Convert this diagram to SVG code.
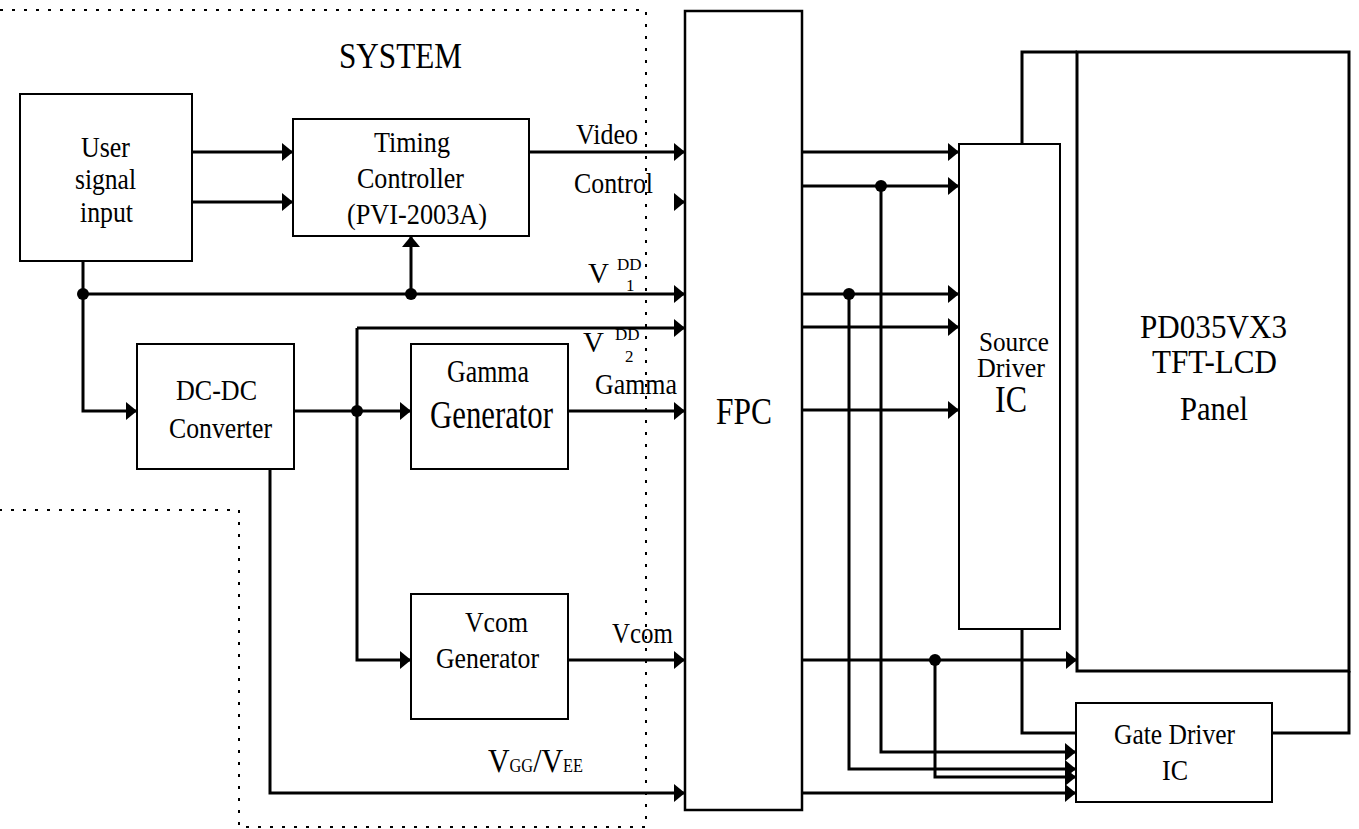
<svg xmlns="http://www.w3.org/2000/svg" width="1359" height="829" viewBox="0 0 1359 829">
<style>
.box{fill:#fff;stroke:#000;stroke-width:2}
.w{fill:none;stroke:#000;stroke-width:3}
.wa{fill:none;stroke:#000;stroke-width:3;marker-end:url(#arr)}
.dot{fill:#000}
.dotted{fill:none;stroke:#000;stroke-width:2;stroke-dasharray:3 9}
text{font-family:"Liberation Serif","Times New Roman",serif;fill:#000;font-size:29px}
</style>
<defs>
<marker id="arr" viewBox="0 0 11 18" refX="11" refY="9" markerWidth="11" markerHeight="18" markerUnits="userSpaceOnUse" orient="auto">
<path d="M0,0 L11,9 L0,18 z" fill="#000"/>
</marker>
</defs>
<rect width="1359" height="829" fill="#fff"/>
<path class="dotted" d="M0,10 H646 V827 H239 V510 H0"/>
<text x="339" y="68" style="font-size:35px" textLength="123" lengthAdjust="spacingAndGlyphs">SYSTEM</text>

<g id="connectors">
<path class="wa" d="M192,152 H293"/>
<path class="wa" d="M192,202 H293"/>
<path class="wa" d="M529,152 H685"/>
<path class="wa" d="M674,202 H685"/>
<path class="wa" d="M83,294 H685"/>
<path class="wa" d="M83,261 V411 H137"/>
<path class="wa" d="M411,294 V236"/>
<path class="wa" d="M294,411 H411"/>
<path class="wa" d="M357,328 H685"/>
<path class="wa" d="M357,328 V660 H411"/>
<path class="wa" d="M568,411 H685"/>
<path class="wa" d="M568,660 H685"/>
<path class="wa" d="M270,469 V793 H685"/>
<circle class="dot" cx="83" cy="294" r="6"/>
<circle class="dot" cx="411" cy="294" r="6"/>
<circle class="dot" cx="357" cy="411" r="6"/>

<path class="wa" d="M802,152 H959"/>
<path class="wa" d="M802,186 H959"/>
<path class="wa" d="M881,186 V752 H1076"/>
<path class="wa" d="M802,294 H959"/>
<path class="wa" d="M849,294 V769 H1076"/>
<path class="wa" d="M802,327 H959"/>
<path class="wa" d="M802,410 H959"/>
<path class="wa" d="M802,660 H1077"/>
<path class="wa" d="M935,660 V777 H1076"/>
<path class="wa" d="M802,793 H1076"/>
<path class="w" d="M1022,629 V733 H1076"/>
<path class="w" d="M1022,144 V52 H1077"/>
<path class="w" d="M1272,733 H1349 V671"/>
<circle class="dot" cx="881" cy="186" r="6"/>
<circle class="dot" cx="849" cy="294" r="6"/>
<circle class="dot" cx="935" cy="660" r="6"/>

<text x="576" y="144" textLength="62" lengthAdjust="spacingAndGlyphs">Video</text>
<text x="574" y="193" textLength="79" lengthAdjust="spacingAndGlyphs">Control</text>
<text x="588" y="283">V</text>
<text x="617" y="270" style="font-size:17px">DD</text>
<text x="626" y="291" style="font-size:17px">1</text>
<text x="583" y="352">V</text>
<text x="615" y="340" style="font-size:17px">DD</text>
<text x="625" y="362" style="font-size:17px">2</text>
<text x="595" y="394" textLength="82" lengthAdjust="spacingAndGlyphs">Gamma</text>
<text x="612" y="643" textLength="61" lengthAdjust="spacingAndGlyphs">Vcom</text>
<text x="488" y="772" style="font-size:33px" textLength="95" lengthAdjust="spacingAndGlyphs">V<tspan style="font-size:18px">GG</tspan>/V<tspan style="font-size:18px">EE</tspan></text>
</g>

<g id="user">
<rect class="box" x="20" y="94" width="172" height="167"/>
<text x="81" y="157" textLength="49" lengthAdjust="spacingAndGlyphs">User</text>
<text x="75" y="189" textLength="61" lengthAdjust="spacingAndGlyphs">signal</text>
<text x="80" y="222" textLength="53" lengthAdjust="spacingAndGlyphs">input</text>
</g>
<g id="timing">
<rect class="box" x="293" y="119" width="236" height="117"/>
<text x="374" y="152" textLength="76" lengthAdjust="spacingAndGlyphs">Timing</text>
<text x="357" y="188" textLength="107" lengthAdjust="spacingAndGlyphs">Controller</text>
<text x="347" y="224" textLength="140" lengthAdjust="spacingAndGlyphs">(PVI-2003A)</text>
</g>
<g id="dcdc">
<rect class="box" x="137" y="344" width="157" height="125"/>
<text x="176" y="400" textLength="81" lengthAdjust="spacingAndGlyphs">DC-DC</text>
<text x="169" y="438" textLength="103" lengthAdjust="spacingAndGlyphs">Converter</text>
</g>
<g id="gamma">
<rect class="box" x="411" y="344" width="157" height="125"/>
<text x="447" y="382" style="font-size:31px" textLength="82" lengthAdjust="spacingAndGlyphs">Gamma</text>
<text x="430" y="428" style="font-size:40px" textLength="123" lengthAdjust="spacingAndGlyphs">Generator</text>
</g>
<g id="vcom">
<rect class="box" x="411" y="594" width="157" height="125"/>
<text x="465" y="632" textLength="63" lengthAdjust="spacingAndGlyphs">Vcom</text>
<text x="436" y="668" textLength="103" lengthAdjust="spacingAndGlyphs">Generator</text>
</g>
<g id="fpc">
<rect class="box" x="685" y="11" width="117" height="799" style="stroke-width:2.5"/>
<text x="716" y="424" style="font-size:38px" textLength="56" lengthAdjust="spacingAndGlyphs">FPC</text>
</g>
<g id="source">
<rect class="box" x="959" y="144" width="101" height="485"/>
<text x="979" y="351" style="font-size:27px" textLength="70" lengthAdjust="spacingAndGlyphs">Source</text>
<text x="977" y="377" style="font-size:27px" textLength="68" lengthAdjust="spacingAndGlyphs">Driver</text>
<text x="995" y="412" style="font-size:38px" textLength="32" lengthAdjust="spacingAndGlyphs">IC</text>
</g>
<g id="panel">
<rect class="box" x="1077" y="52" width="272" height="619" style="stroke-width:3"/>
<text x="1140" y="338" style="font-size:34px" textLength="147" lengthAdjust="spacingAndGlyphs">PD035VX3</text>
<text x="1152" y="373" style="font-size:34px" textLength="125" lengthAdjust="spacingAndGlyphs">TFT-LCD</text>
<text x="1180" y="420" style="font-size:34px" textLength="68" lengthAdjust="spacingAndGlyphs">Panel</text>
</g>
<g id="gate">
<rect class="box" x="1076" y="703" width="196" height="99"/>
<text x="1114" y="744" textLength="121" lengthAdjust="spacingAndGlyphs">Gate Driver</text>
<text x="1162" y="780" textLength="26" lengthAdjust="spacingAndGlyphs">IC</text>
</g>
</svg>
